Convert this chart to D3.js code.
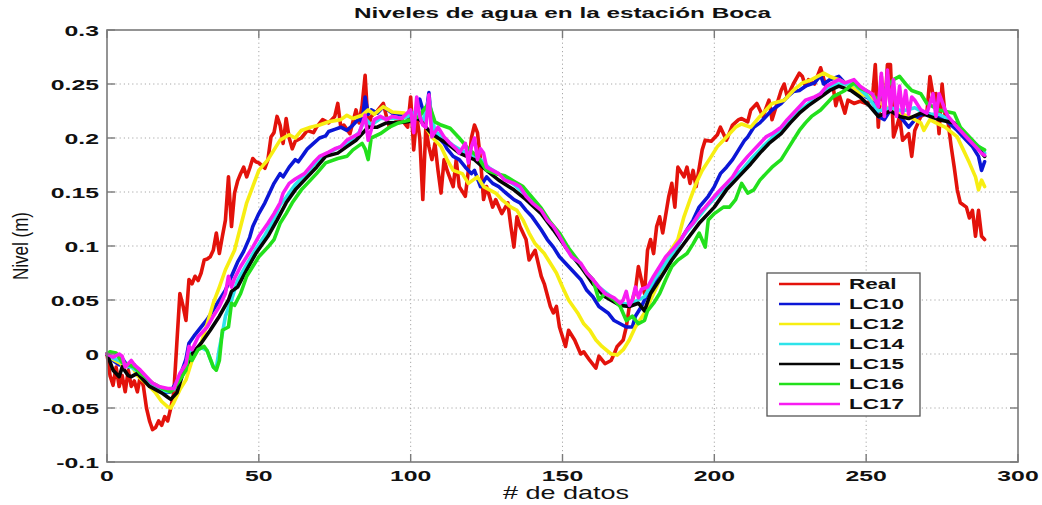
<!DOCTYPE html>
<html>
<head>
<meta charset="utf-8">
<script src="https://cdn.jsdelivr.net/npm/d3@7"></script>
<style>
  html, body { margin: 0; padding: 0; background: #fff; }
  svg { display: block; }
  text { font-family: "Liberation Sans", Arial, Helvetica, sans-serif; fill: #111; }
</style>
</head>
<body>
<svg id="chart" width="1042" height="505"></svg>
<script>
// Water level series at Boca station: [sample index, level in m]
const real = [[0,0],[1,-0.02],[2,-0.029],[3,-0.012],[4,-0.03],[5,-0.02],[6,-0.035],[7,-0.015],[8,-0.03],[9,-0.025],[10,-0.035],[11,-0.02],[12,-0.03],[13,-0.05],[14,-0.062],[15,-0.07],[16,-0.068],[17,-0.062],[18,-0.066],[19,-0.058],[20,-0.062],[21,-0.05],[22,-0.036],[23,0.01],[24,0.056],[25,0.045],[26,0.031],[27,0.069],[28,0.065],[29,0.072],[30,0.068],[31,0.075],[32,0.087],[33,0.088],[34,0.09],[35,0.096],[36,0.112],[37,0.093],[38,0.109],[39,0.124],[40,0.164],[41,0.118],[42,0.149],[43,0.16],[44,0.167],[45,0.173],[46,0.164],[47,0.172],[48,0.181],[49,0.178],[50,0.177],[52,0.172],[53,0.18],[54,0.201],[55,0.205],[56,0.22],[57,0.212],[58,0.195],[59,0.218],[60,0.2],[61,0.19],[62,0.197],[64,0.2],[66,0.207],[68,0.205],[69,0.21],[71,0.217],[73,0.214],[75,0.22],[76,0.232],[77,0.21],[78,0.212],[80,0.204],[81,0.215],[82,0.226],[83,0.214],[84,0.23],[85,0.258],[86,0.21],[87,0.22],[89,0.225],[91,0.232],[92,0.22],[93,0.21],[95,0.215],[97,0.217],[99,0.21],[100,0.238],[101,0.189],[102,0.22],[103,0.2],[104,0.143],[105,0.21],[106,0.192],[107,0.18],[108,0.195],[109,0.17],[110,0.149],[111,0.18],[112,0.17],[114,0.155],[115,0.18],[116,0.155],[118,0.146],[119,0.17],[120,0.2],[121,0.212],[122,0.205],[123,0.18],[124,0.143],[125,0.155],[127,0.136],[128,0.143],[130,0.13],[132,0.14],[133,0.118],[134,0.099],[135,0.127],[136,0.118],[138,0.106],[139,0.087],[141,0.096],[143,0.072],[144,0.065],[146,0.044],[147,0.038],[148,0.044],[149,0.025],[151,0.007],[152,0.022],[154,0.013],[156,0],[157,0.002],[159,-0.006],[161,-0.013],[162,-0.002],[164,-0.009],[166,-0.006],[167,0],[168,0.007],[170,0.013],[171,0.025],[172,0.044],[173,0.05],[174,0.059],[175,0.081],[177,0.056],[178,0.096],[179,0.106],[180,0.093],[181,0.118],[182,0.127],[183,0.112],[185,0.146],[186,0.158],[187,0.136],[188,0.173],[190,0.164],[191,0.173],[192,0.158],[193,0.17],[194,0.155],[196,0.189],[197,0.198],[199,0.197],[201,0.203],[202,0.21],[204,0.198],[206,0.212],[208,0.217],[209,0.218],[211,0.215],[212,0.226],[214,0.232],[216,0.22],[218,0.235],[219,0.217],[221,0.235],[222,0.244],[223,0.25],[224,0.238],[226,0.25],[228,0.26],[229,0.257],[230,0.248],[231,0.254],[233,0.25],[235,0.265],[237,0.245],[239,0.25],[240,0.23],[241,0.241],[243,0.223],[244,0.235],[246,0.232],[248,0.234],[250,0.232],[252,0.235],[253,0.268],[254,0.21],[255,0.257],[256,0.22],[257,0.268],[258,0.268],[259,0.201],[260,0.21],[261,0.22],[262,0.198],[264,0.204],[265,0.183],[266,0.207],[268,0.22],[270,0.223],[271,0.257],[272,0.24],[273,0.241],[274,0.204],[275,0.25],[276,0.22],[277,0.214],[278,0.192],[279,0.173],[280,0.152],[281,0.14],[283,0.136],[284,0.126],[285,0.133],[286,0.109],[287,0.133],[288,0.109],[289,0.106]];

const lc10 = [[0,0],[2,-0.006],[4,-0.01],[5,-0.004],[7,-0.012],[9,-0.01],[11,-0.02],[13,-0.025],[15,-0.03],[17,-0.033],[19,-0.036],[21,-0.035],[22,-0.03],[24,-0.021],[26,-0.005],[27,0.01],[29,0.018],[31,0.025],[33,0.032],[35,0.041],[37,0.05],[39,0.059],[41,0.072],[43,0.085],[45,0.095],[47,0.108],[48,0.118],[50,0.13],[52,0.14],[54,0.152],[55,0.158],[57,0.167],[58,0.164],[60,0.173],[62,0.18],[63,0.178],[65,0.186],[66,0.19],[68,0.195],[70,0.2],[72,0.202],[73,0.206],[75,0.208],[77,0.21],[79,0.207],[81,0.212],[83,0.218],[84,0.215],[85,0.238],[86,0.222],[87,0.226],[89,0.223],[91,0.229],[93,0.225],[94,0.223],[96,0.222],[98,0.22],[100,0.22],[101,0.218],[103,0.236],[104,0.226],[105,0.22],[106,0.242],[107,0.21],[109,0.201],[111,0.195],[112,0.19],[114,0.183],[116,0.18],[118,0.173],[120,0.167],[121,0.17],[123,0.155],[125,0.164],[127,0.158],[129,0.155],[131,0.15],[134,0.143],[136,0.14],[138,0.133],[140,0.127],[143,0.115],[145,0.106],[147,0.099],[149,0.09],[151,0.084],[154,0.075],[156,0.069],[158,0.059],[160,0.053],[162,0.044],[165,0.038],[167,0.031],[169,0.028],[171,0.025],[173,0.025],[174,0.035],[176,0.044],[178,0.056],[180,0.065],[182,0.075],[184,0.087],[187,0.096],[189,0.106],[191,0.115],[193,0.124],[195,0.136],[198,0.146],[200,0.155],[202,0.167],[204,0.173],[206,0.18],[208,0.189],[210,0.198],[211,0.201],[213,0.21],[215,0.214],[217,0.22],[219,0.226],[222,0.232],[224,0.238],[226,0.243],[228,0.244],[230,0.248],[233,0.251],[235,0.258],[236,0.25],[238,0.254],[241,0.257],[243,0.251],[247,0.244],[250,0.238],[252,0.235],[254,0.22],[256,0.217],[258,0.226],[260,0.223],[262,0.217],[264,0.21],[267,0.22],[270,0.223],[273,0.22],[276,0.217],[280,0.207],[283,0.198],[285,0.192],[287,0.183],[288,0.17],[289,0.178]];

const lc12 = [[0,0],[2,-0.005],[4,-0.008],[6,-0.012],[8,-0.01],[10,-0.02],[12,-0.025],[14,-0.03],[16,-0.036],[18,-0.044],[20,-0.049],[21,-0.05],[22,-0.045],[24,-0.033],[26,-0.024],[28,-0.006],[31,0.01],[33,0.028],[35,0.047],[37,0.062],[39,0.078],[42,0.096],[44,0.118],[46,0.14],[48,0.155],[50,0.17],[53,0.18],[55,0.189],[57,0.198],[60,0.203],[62,0.2],[64,0.207],[67,0.21],[70,0.212],[73,0.215],[77,0.217],[79,0.221],[81,0.218],[84,0.221],[86,0.226],[88,0.222],[91,0.229],[94,0.224],[98,0.223],[101,0.221],[103,0.22],[105,0.21],[107,0.201],[110,0.192],[112,0.18],[114,0.17],[117,0.167],[119,0.158],[122,0.164],[124,0.155],[126,0.152],[128,0.149],[130,0.143],[133,0.136],[135,0.133],[137,0.124],[139,0.112],[141,0.102],[144,0.093],[146,0.084],[148,0.075],[150,0.062],[152,0.05],[155,0.038],[157,0.028],[159,0.022],[161,0.013],[163,0.007],[166,0],[168,-0.001],[170,0.004],[172,0.013],[174,0.025],[177,0.038],[179,0.05],[181,0.062],[183,0.075],[185,0.093],[188,0.106],[190,0.127],[192,0.143],[194,0.158],[196,0.17],[199,0.183],[201,0.192],[203,0.198],[205,0.204],[207,0.21],[209,0.213],[212,0.21],[215,0.22],[217,0.226],[219,0.232],[223,0.235],[226,0.244],[229,0.251],[232,0.254],[236,0.26],[238,0.257],[241,0.254],[245,0.248],[248,0.241],[251,0.238],[255,0.232],[258,0.226],[261,0.223],[264,0.22],[268,0.214],[269,0.207],[271,0.217],[273,0.214],[276,0.21],[280,0.201],[282,0.189],[284,0.177],[286,0.164],[287,0.152],[288,0.161],[289,0.155]];

const lc14 = [[0,0],[2,-0.004],[4,-0.006],[6,-0.01],[8,-0.012],[10,-0.016],[12,-0.022],[14,-0.028],[16,-0.03],[18,-0.033],[20,-0.035],[22,-0.033],[24,-0.02],[26,-0.012],[27,0.002],[29,0.002],[31,0.006],[33,0.003],[35,-0.012],[36,-0.013],[37,0.005],[38,0.019],[39,0.035],[41,0.05],[43,0.068],[46,0.083],[49,0.097],[52,0.11],[55,0.125],[57,0.138],[59,0.145],[62,0.157],[65,0.165],[68,0.175],[71,0.183],[74,0.188],[77,0.192],[80,0.197],[83,0.205],[85,0.218],[87,0.212],[90,0.218],[93,0.218],[96,0.218],[99,0.22],[102,0.225],[104,0.215],[106,0.236],[108,0.206],[111,0.2],[114,0.193],[117,0.188],[120,0.185],[123,0.18],[126,0.172],[130,0.165],[134,0.157],[138,0.147],[142,0.135],[146,0.12],[150,0.104],[154,0.088],[158,0.075],[162,0.062],[166,0.053],[169,0.047],[172,0.046],[175,0.05],[177,0.053],[180,0.068],[183,0.08],[186,0.092],[190,0.11],[194,0.124],[198,0.138],[202,0.15],[206,0.162],[209,0.17],[212,0.18],[216,0.192],[220,0.203],[224,0.214],[228,0.225],[232,0.234],[236,0.244],[240,0.25],[243,0.25],[246,0.25],[250,0.24],[254,0.225],[258,0.228],[262,0.225],[266,0.228],[270,0.222],[274,0.222],[278,0.216],[282,0.205],[285,0.197],[288,0.19],[289,0.186]];

const lc15 = [[0,0],[2,-0.015],[4,-0.021],[5,-0.012],[7,-0.02],[8,-0.021],[10,-0.018],[12,-0.024],[14,-0.03],[16,-0.033],[18,-0.036],[20,-0.04],[21,-0.042],[23,-0.036],[25,-0.018],[28,0],[31,0.01],[34,0.022],[37,0.035],[40,0.05],[41,0.058],[43,0.062],[46,0.078],[49,0.093],[53,0.109],[56,0.124],[59,0.14],[62,0.152],[66,0.164],[69,0.173],[72,0.183],[76,0.186],[79,0.192],[82,0.198],[85,0.207],[86,0.21],[89,0.21],[92,0.214],[95,0.214],[99,0.215],[102,0.218],[103,0.217],[105,0.21],[107,0.204],[109,0.2],[112,0.195],[116,0.186],[121,0.18],[125,0.17],[129,0.161],[134,0.152],[138,0.143],[143,0.13],[147,0.115],[151,0.099],[156,0.081],[160,0.065],[164,0.053],[169,0.045],[172,0.044],[175,0.047],[177,0.04],[179,0.056],[182,0.069],[186,0.087],[191,0.106],[195,0.121],[200,0.136],[204,0.152],[208,0.164],[212,0.176],[215,0.186],[218,0.195],[222,0.204],[225,0.214],[228,0.223],[231,0.23],[235,0.238],[238,0.244],[241,0.248],[245,0.244],[248,0.238],[251,0.23],[254,0.22],[258,0.225],[261,0.22],[264,0.218],[268,0.223],[271,0.22],[274,0.217],[279,0.214],[282,0.205],[284,0.198],[287,0.19],[289,0.183]];

const lc16 = [[0,0],[1,0.002],[3,0.001],[5,-0.008],[7,-0.01],[9,-0.012],[11,-0.018],[13,-0.022],[15,-0.027],[17,-0.03],[19,-0.033],[21,-0.035],[22,-0.032],[24,-0.024],[26,-0.015],[27,0],[28,-0.006],[30,0.004],[32,0.007],[33,0.003],[35,-0.012],[36,-0.015],[37,-0.006],[38,0.022],[40,0.025],[41,0.047],[42,0.045],[44,0.056],[46,0.072],[48,0.081],[50,0.09],[53,0.099],[55,0.106],[57,0.121],[59,0.13],[61,0.14],[64,0.152],[66,0.158],[69,0.167],[72,0.177],[76,0.181],[79,0.183],[81,0.189],[84,0.195],[85,0.19],[86,0.18],[87,0.2],[90,0.204],[93,0.21],[96,0.214],[100,0.217],[103,0.22],[104,0.225],[106,0.232],[108,0.215],[110,0.212],[113,0.209],[116,0.2],[119,0.19],[122,0.183],[125,0.17],[128,0.167],[131,0.165],[134,0.16],[137,0.155],[140,0.145],[143,0.135],[146,0.122],[149,0.112],[152,0.098],[155,0.087],[158,0.075],[160,0.069],[162,0.05],[164,0.056],[167,0.05],[169,0.044],[171,0.031],[173,0.035],[175,0.028],[177,0.031],[178,0.04],[180,0.047],[182,0.056],[184,0.069],[186,0.081],[188,0.087],[191,0.093],[193,0.102],[195,0.112],[197,0.099],[198,0.124],[200,0.13],[203,0.136],[205,0.136],[207,0.143],[209,0.158],[211,0.149],[213,0.152],[215,0.161],[217,0.167],[219,0.173],[222,0.18],[224,0.189],[226,0.198],[228,0.207],[230,0.214],[232,0.22],[235,0.226],[237,0.232],[239,0.238],[241,0.241],[243,0.244],[246,0.251],[248,0.246],[250,0.244],[252,0.24],[254,0.235],[256,0.245],[259,0.254],[261,0.257],[263,0.25],[265,0.244],[268,0.241],[270,0.232],[274,0.226],[279,0.223],[281,0.21],[284,0.201],[287,0.192],[289,0.189]];

const lc17 = [[0,0],[2,-0.003],[4,0],[5,-0.002],[6,-0.012],[8,-0.006],[9,-0.01],[11,-0.015],[13,-0.021],[15,-0.027],[17,-0.03],[20,-0.032],[22,-0.032],[24,-0.018],[26,-0.009],[27,0.007],[28,0.004],[30,0.016],[33,0.025],[35,0.035],[37,0.044],[39,0.056],[40,0.072],[41,0.062],[42,0.07],[44,0.081],[46,0.09],[48,0.099],[50,0.109],[53,0.121],[55,0.13],[57,0.14],[58,0.149],[60,0.158],[62,0.162],[65,0.167],[68,0.177],[70,0.183],[73,0.187],[75,0.19],[77,0.192],[79,0.198],[81,0.201],[83,0.204],[85,0.221],[86,0.198],[88,0.217],[90,0.22],[92,0.217],[94,0.22],[97,0.218],[100,0.226],[101,0.205],[102,0.238],[103,0.22],[104,0.212],[105,0.21],[106,0.24],[107,0.201],[109,0.21],[111,0.201],[113,0.195],[115,0.19],[116,0.186],[118,0.195],[119,0.177],[120,0.192],[121,0.2],[122,0.18],[123,0.19],[124,0.186],[125,0.173],[127,0.17],[129,0.167],[131,0.161],[134,0.158],[136,0.155],[138,0.146],[140,0.14],[143,0.133],[145,0.124],[147,0.118],[149,0.109],[151,0.099],[153,0.09],[156,0.084],[158,0.075],[160,0.069],[162,0.062],[164,0.056],[167,0.052],[169,0.047],[170,0.05],[171,0.058],[172,0.045],[173,0.05],[174,0.062],[175,0.052],[176,0.06],[178,0.062],[180,0.072],[182,0.081],[184,0.09],[186,0.096],[189,0.106],[191,0.115],[193,0.121],[195,0.13],[197,0.136],[200,0.146],[202,0.152],[204,0.158],[206,0.164],[208,0.173],[211,0.183],[213,0.189],[215,0.195],[217,0.201],[219,0.204],[222,0.21],[224,0.217],[226,0.223],[228,0.229],[230,0.235],[233,0.238],[235,0.241],[237,0.248],[239,0.251],[241,0.254],[243,0.251],[246,0.254],[248,0.248],[250,0.244],[252,0.241],[254,0.229],[255,0.26],[256,0.22],[257,0.263],[258,0.226],[259,0.254],[260,0.22],[261,0.248],[262,0.223],[263,0.244],[264,0.222],[265,0.238],[266,0.235],[268,0.226],[270,0.223],[272,0.241],[273,0.22],[274,0.241],[276,0.226],[277,0.22],[280,0.21],[282,0.204],[284,0.198],[286,0.192],[288,0.186],[289,0.184]];

const seriesNames = ["Real", "LC10", "LC12", "LC14", "LC15", "LC16", "LC17"];
const seriesData = [real, lc10, lc12, lc14, lc15, lc16, lc17];
const seriesColors = ["#e3120b", "#0b16d6", "#f7ee12", "#2ee3ea", "#050505", "#22e01c", "#f81cf2"];

const xTicks = [0, 50, 100, 150, 200, 250, 300];
const yTicks = [-0.1, -0.05, 0, 0.05, 0.1, 0.15, 0.2, 0.25, 0.3];
const yTickLabels = ["-0.1", "-0.05", "0", "0.05", "0.1", "0.15", "0.2", "0.25", "0.3"];

const titleText = "Niveles de agua en la estación Boca";
const xLabelText = "# de datos";
const yLabelText = "Nivel (m)";

// ---- layout ----
const plot = { left: 107, right: 1018, top: 30, bottom: 462 };
const stretch = 1.6;   // horizontal widening of the lettering

const svg = d3.select("#chart");
const x = d3.scaleLinear().domain([0, 300]).range([plot.left, plot.right]);
const y = d3.scaleLinear().domain([-0.1, 0.3]).range([plot.bottom, plot.top]);

function wideText(g, px, py, str, opts) {
  return g.append("text")
    .attr("transform", `translate(${px},${py}) scale(${opts.sx || stretch},1)` + (opts.rotate ? ` rotate(${opts.rotate})` : ""))
    .attr("text-anchor", opts.anchor || "middle")
    .attr("dominant-baseline", opts.baseline || "central")
    .attr("font-size", opts.size)
    .attr("font-weight", opts.weight || "bold")
    .text(str);
}

// white plot background
svg.append("rect").attr("x", plot.left).attr("y", plot.top)
  .attr("width", plot.right - plot.left).attr("height", plot.bottom - plot.top)
  .attr("fill", "#fff");

// dotted grid
const grid = svg.append("g").attr("stroke", "#a8a8a8").attr("stroke-width", 1)
  .attr("stroke-dasharray", "1.2,3").attr("fill", "none");
xTicks.slice(1, -1).forEach(v => {
  grid.append("line").attr("x1", x(v)).attr("x2", x(v)).attr("y1", plot.top).attr("y2", plot.bottom);
});
yTicks.slice(1, -1).forEach(v => {
  grid.append("line").attr("x1", plot.left).attr("x2", plot.right).attr("y1", y(v)).attr("y2", y(v));
});

// series lines
const line = d3.line().x(d => x(d[0])).y(d => y(d[1]));
const lines = svg.append("g").attr("fill", "none").attr("stroke-width", 3.6)
  .attr("stroke-linejoin", "round").attr("stroke-linecap", "round");
seriesData.forEach((data, i) => {
  lines.append("path").datum(data).attr("d", line).attr("stroke", seriesColors[i]);
});

// axes frame with inward ticks on all sides
const axisColor = "#7a7a7a";
const frame = svg.append("g").attr("stroke", axisColor).attr("fill", "none");
frame.append("rect").attr("x", plot.left).attr("y", plot.top)
  .attr("width", plot.right - plot.left).attr("height", plot.bottom - plot.top)
  .attr("stroke-width", 1.6);
const tickLen = 8;
xTicks.forEach(v => {
  frame.append("line").attr("x1", x(v)).attr("x2", x(v)).attr("y1", plot.bottom).attr("y2", plot.bottom - tickLen).attr("stroke-width", 1.4);
  frame.append("line").attr("x1", x(v)).attr("x2", x(v)).attr("y1", plot.top).attr("y2", plot.top + tickLen).attr("stroke-width", 1.4);
});
yTicks.forEach(v => {
  frame.append("line").attr("x1", plot.left).attr("x2", plot.left + tickLen).attr("y1", y(v)).attr("y2", y(v)).attr("stroke-width", 1.4);
  frame.append("line").attr("x1", plot.right).attr("x2", plot.right - tickLen).attr("y1", y(v)).attr("y2", y(v)).attr("stroke-width", 1.4);
});

// tick labels
const labels = svg.append("g");
xTicks.forEach(v => wideText(labels, x(v), plot.bottom + 13, String(v), { size: 15.5 }));
yTicks.forEach((v, i) => wideText(labels, plot.left - 8, y(v), yTickLabels[i], { size: 15.5, anchor: "end" }));

// title and axis names
wideText(svg, (plot.left + plot.right) / 2, 13, titleText, { size: 15, sx: 1.62 });
wideText(svg, 566, 493, xLabelText, { size: 18, weight: "normal", sx: 1.5 });
wideText(svg, 20, 246, yLabelText, { size: 17, weight: "normal", sx: 1.3, rotate: -90 });

// legend
const legend = svg.append("g");
const lg = { x: 767, y: 273, w: 153, h: 143, row0: 284, step: 20 };
legend.append("rect").attr("x", lg.x).attr("y", lg.y).attr("width", lg.w).attr("height", lg.h)
  .attr("fill", "#fff").attr("stroke", "#555").attr("stroke-width", 1.3);
seriesNames.forEach((name, i) => {
  const cy = lg.row0 + i * lg.step;
  legend.append("line").attr("x1", 779).attr("x2", 840).attr("y1", cy).attr("y2", cy)
    .attr("stroke", seriesColors[i]).attr("stroke-width", 2.4);
  wideText(legend, 849, cy, name, { size: 15, anchor: "start", sx: 1.5 });
});
</script>
</body>
</html>
